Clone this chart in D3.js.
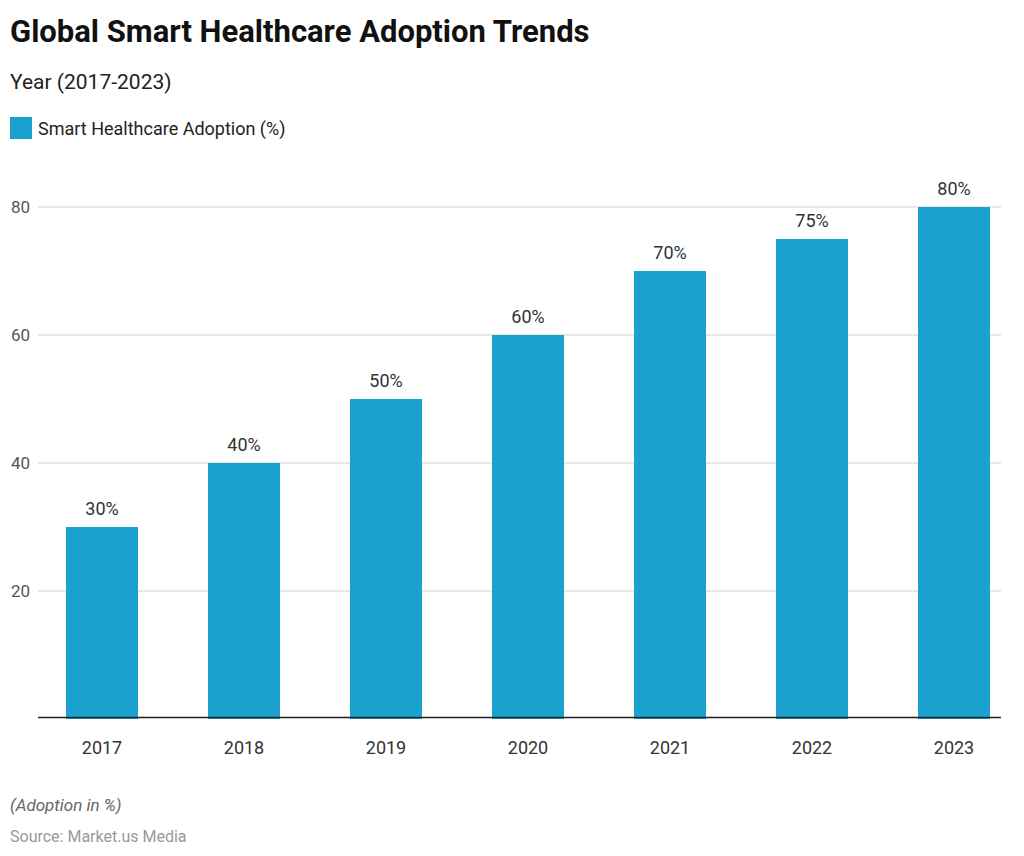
<!DOCTYPE html>
<html>
<head>
<meta charset="utf-8">
<script src="https://cdn.jsdelivr.net/npm/d3@7"></script>
<style>
  body { margin: 0; background: #fff; font-family: Roboto, "Noto Sans", sans-serif; }
</style>
</head>
<body>
<svg id="chart" width="1024" height="856"></svg>
<script>
// chart data
var years = ["2017", "2018", "2019", "2020", "2021", "2022", "2023"];
var adoption = [30, 40, 50, 60, 70, 75, 80];
var yTicks = [20, 40, 60, 80];

var svg = d3.select("#chart");
var barColor = "#1ba1ce";

// titles
svg.append("text").attr("x", 10).attr("y", 42)
  .style("font-size", "31px").style("font-weight", "bold").style("fill", "#111")
  .text("Global Smart Healthcare Adoption Trends");
svg.append("text").attr("x", 10).attr("y", 89)
  .style("font-size", "21px").style("fill", "#222")
  .text("Year (2017-2023)");

// legend
svg.append("rect").attr("x", 10).attr("y", 117).attr("width", 22).attr("height", 22).style("fill", barColor);
svg.append("text").attr("x", 38).attr("y", 135)
  .style("font-size", "18px").style("fill", "#222")
  .text("Smart Healthcare Adoption (%)");

var x = d3.scaleBand().domain(years).range([31, 1025]).paddingInner(0.493).paddingOuter(0.2465);
var y = d3.scaleLinear().domain([0, 80]).range([719, 207]);

// grid
svg.selectAll(".grid").data(yTicks).enter().append("line")
  .attr("x1", 38).attr("x2", 1001)
  .attr("y1", function(d) { return y(d); })
  .attr("y2", function(d) { return y(d); })
  .style("stroke", "#d0d0d0").style("stroke-width", 1);

svg.selectAll(".ytick").data(yTicks).enter().append("text")
  .attr("x", 30).attr("y", function(d) { return y(d) + 6; })
  .style("text-anchor", "end").style("font-size", "17px").style("fill", "#555")
  .text(function(d) { return d; });

// bars
svg.selectAll(".bar").data(adoption).enter().append("rect")
  .attr("x", function(d, i) { return x(years[i]); })
  .attr("y", function(d) { return y(d); })
  .attr("width", x.bandwidth())
  .attr("height", function(d) { return y(0) - y(d); })
  .style("fill", barColor);

svg.selectAll(".val").data(adoption).enter().append("text")
  .attr("x", function(d, i) { return x(years[i]) + x.bandwidth() / 2; })
  .attr("y", function(d) { return y(d) - 12; })
  .style("text-anchor", "middle").style("font-size", "18px").style("fill", "#333")
  .text(function(d) { return d + "%"; });

// x axis
svg.append("line").attr("x1", 38).attr("x2", 1001).attr("y1", 717.5).attr("y2", 717.5)
  .style("stroke", "#222").style("stroke-width", 1.5);
svg.selectAll(".xtick").data(years).enter().append("text")
  .attr("x", function(d) { return x(d) + x.bandwidth() / 2; })
  .attr("y", 754)
  .style("text-anchor", "middle").style("font-size", "18px").style("fill", "#333")
  .text(function(d) { return d; });

// footer
svg.append("text").attr("x", 10).attr("y", 811)
  .style("font-size", "17px").style("font-style", "italic").style("fill", "#666")
  .text("(Adoption in %)");
svg.append("text").attr("x", 10).attr("y", 842)
  .style("font-size", "16px").style("fill", "#999")
  .text("Source: Market.us Media");
</script>
</body>
</html>
